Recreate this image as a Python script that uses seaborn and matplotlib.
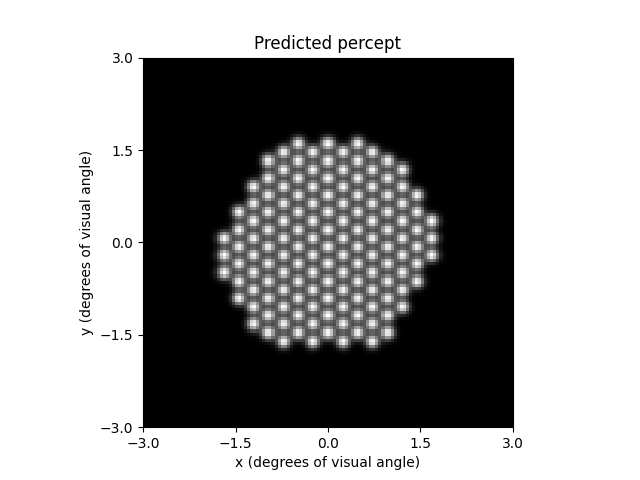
import matplotlib
matplotlib.use("Agg")
import matplotlib.pyplot as plt
import seaborn as sns
import numpy as np

# electrode columns of the implant (hex grid, vertical orientation)
col_index = [-7, -6, -5, -4, -3, -2, -1, 0, 1, 2, 3, 4, 5, 6, 7]
row_first = [4, 2, 1, 0, 0, 0, 0, 0, 0, 0, 0, 0, 2, 3, 5]
row_last = [6, 7, 9, 10, 11, 11, 11, 11, 11, 11, 11, 10, 10, 8, 7]
pitch = 0.281          # electrode spacing (deg)
rho = 0.075            # spread of each phosphene (deg)

tick_vals = [-3.0, -1.5, 0.0, 1.5, 3.0]
tick_labels = ["\u22123.0", "\u22121.5", "0.0", "1.5", "3.0"]
lim = 3.0
step = 0.05

# electrode centres
ex, ey = [], []
for k, j0, j1 in zip(col_index, row_first, row_last):
    shift = 5.25 if k % 2 == 0 else 5.75
    for j in range(j0, j1 + 1):
        ex.append(k * pitch * np.sqrt(3) / 2)
        ey.append((j - shift) * pitch)
ex = np.array(ex)
ey = np.array(ey)

xs = np.arange(-lim, lim + step / 2, step)
ys = xs[::-1]  # top row is +3
X, Y = np.meshgrid(xs, ys)
img = np.zeros_like(X)
for x0, y0 in zip(ex, ey):
    img += np.exp(-((X - x0) ** 2 + (Y - y0) ** 2) / (2 * rho ** 2))

n = len(xs)
fig, ax = plt.subplots(figsize=(6.4, 4.8), dpi=100)
sns.heatmap(img, cmap="gray", cbar=False, square=True,
            xticklabels=False, yticklabels=False, ax=ax)
for s in ax.spines.values():
    s.set_visible(True)

ax.set_xticks([(v + lim) / (2 * lim) * n for v in tick_vals])
ax.set_xticklabels(tick_labels, rotation=0)
ax.set_yticks([(lim - v) / (2 * lim) * n for v in tick_vals])
ax.set_yticklabels(tick_labels, rotation=0)
ax.set_xlabel("x (degrees of visual angle)")
ax.set_ylabel("y (degrees of visual angle)")
ax.set_title("Predicted percept")

plt.savefig("out.png")
